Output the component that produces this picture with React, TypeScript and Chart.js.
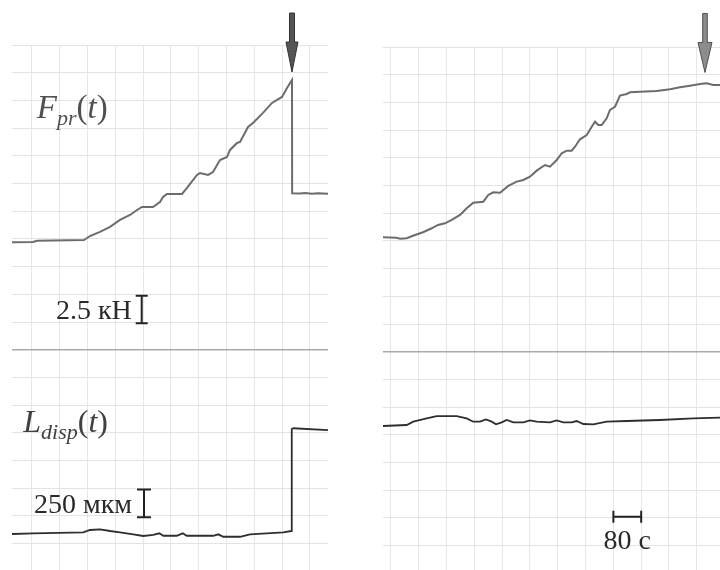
import React, { useEffect, useRef } from "react";
import { Chart, registerables } from "chart.js";

Chart.register(...registerables);

// ---------- DATA (time in s, force in kN, displacement in µm) ----------
// Left experiment
const leftForceTime = [-57.5, 2.9, 14.4, 149.6, 166.9, 195.7, 224.5, 253.2, 282, 302.2, 316.5, 348.2, 368.3, 377, 388.5, 431.7, 446, 474.8, 483.5, 506.5, 520.9, 541, 561.2, 569.8, 590, 598.6, 621.6, 636, 664.7, 690.6, 719.4, 733.8, 748.2, 748.6, 771.2, 785.6, 805.8, 823, 851.8];
const leftForceKN = [-0.05, -0.03, 0.09, 0.15, 0.51, 0.88, 1.33, 1.96, 2.41, 2.86, 3.13, 3.13, 3.58, 4.03, 4.31, 4.31, 4.85, 6.02, 6.2, 6.02, 6.29, 7.37, 7.64, 8.28, 8.91, 9.0, 10.35, 10.71, 11.62, 12.52, 13.06, 13.87, 14.59, 4.37, 4.35, 4.4, 4.32, 4.37, 4.32];
const leftDispTime = [-57.5, 3.7, 147.6, 166.9, 195.7, 224.5, 253.2, 291.5, 320.3, 349, 366.3, 377.8, 416.4, 433.7, 445.2, 521.7, 536.1, 550.5, 598.6, 627.3, 675.4, 723.2, 746.5, 747.5, 752, 851.8];
const leftDispUm = [-6, 0, 9, 30, 36, 21, 9, -9, -24, -15, 0, -22, -22, 0, -22, -22, -9, -31, -31, -9, 0, 9, 21, 941, 948, 932];

// Right experiment
const rightForceTime = [-23, 16.4, 25.9, 45.2, 63.3, 92.1, 117.1, 135.3, 155.4, 174.7, 198.6, 217.8, 236.8, 265.6, 280, 294.4, 313.7, 337.6, 361.7, 380.7, 400, 419.3, 443.2, 457.6, 476.8, 491.2, 505.6, 520, 529.5, 543.9, 563.2, 577.6, 587.1, 596.6, 606.3, 620.7, 630.2, 644.6, 659, 678.3, 687.8, 716.6, 764.6, 802.9, 831.7, 860.5, 889.2, 908.5, 927.5, 946.8];
const rightForceKN = [0.02, -0.02, -0.11, -0.07, 0.16, 0.47, 0.83, 1.13, 1.28, 1.58, 2.03, 2.64, 3.14, 3.23, 3.84, 4.08, 4.04, 4.65, 5.04, 5.19, 5.49, 6.03, 6.54, 6.39, 6.99, 7.6, 7.83, 7.83, 8.19, 8.86, 9.25, 10.0, 10.45, 10.15, 10.15, 10.76, 11.51, 11.8, 12.8, 12.95, 13.1, 13.16, 13.22, 13.38, 13.56, 13.7, 13.85, 13.92, 13.76, 13.76];
const rightDispTime = [-23, 45.2, 64.2, 102.7, 131.5, 189.1, 217.8, 236.8, 256.1, 273.4, 289.8, 302.2, 318.6, 333, 352, 380.7, 400, 419.3, 457.6, 476.8, 495.8, 520, 534.4, 553.4, 582.2, 620.7, 678.3, 774.1, 869.9, 946.8];
const rightDispUm = [0, 9, 39, 69, 90, 90, 69, 39, 39, 60, 39, 15, 33, 54, 33, 33, 51, 39, 33, 51, 33, 33, 45, 18, 15, 39, 45, 54, 69, 75];

// Grid (one division = 80 s horizontally, one row vertically)
const leftGridTimes = [0, 80, 160, 240, 320, 400, 480, 560, 640, 720, 800];
const rightGridTimes = [0, 80, 160, 240, 320, 400, 480, 560, 640, 720, 800, 880];
const gridRows = [0, 1, 2, 3, 4, 5, 6, 7, 8, 9, 10, 11, 12, 13, 14, 15, 16, 17, 18];
const dividerRow = 7;

// Labels & scale bars
const forceLabel = { main: "F", sub: "pr", tail: "t" };
const dispLabel = { main: "L", sub: "disp", tail: "t" };
const forceBarText = "2.5 кН";
const dispBarText = "250 мкм";
const timeBarText = "80 с";
const forceBarKN = 2.5;
const dispBarUm = 250;
const timeBarS = 80;

// ---------- helpers ----------
const pts = (xs: number[], ys: number[]) => xs.map((x, i) => ({ x, y: ys[i] }));

const SERIF = "'Liberation Serif', 'DejaVu Serif', serif";

function drawRich(ctx: CanvasRenderingContext2D, x: number, y: number, lab: any, size: number, sub: number, subDy: number, color: string) {
  ctx.save();
  ctx.fillStyle = color;
  ctx.textAlign = "left";
  ctx.textBaseline = "alphabetic";
  const parts = [
    { t: lab.main, f: `italic ${size}px ${SERIF}`, dy: 0 },
    { t: lab.sub, f: `italic ${sub}px ${SERIF}`, dy: subDy },
    { t: "(", f: `${size}px ${SERIF}`, dy: 0 },
    { t: lab.tail, f: `italic ${size}px ${SERIF}`, dy: 0 },
    { t: ")", f: `${size}px ${SERIF}`, dy: 0 },
  ];
  let cx = x;
  for (const p of parts) {
    ctx.font = p.f;
    ctx.fillText(p.t, cx, y + p.dy);
    cx += ctx.measureText(p.t).width;
  }
  ctx.restore();
}

function drawArrow(ctx: CanvasRenderingContext2D, x: number, tipY: number, topY: number, fill: string, stroke: string, shaftW: number, headW: number, headL: number) {
  ctx.save();
  ctx.beginPath();
  ctx.moveTo(x - shaftW / 2, topY);
  ctx.lineTo(x + shaftW / 2, topY);
  ctx.lineTo(x + shaftW / 2, tipY - headL);
  ctx.lineTo(x + headW / 2, tipY - headL);
  ctx.lineTo(x, tipY);
  ctx.lineTo(x - headW / 2, tipY - headL);
  ctx.lineTo(x - shaftW / 2, tipY - headL);
  ctx.closePath();
  ctx.fillStyle = fill;
  ctx.fill();
  ctx.lineWidth = 1;
  ctx.strokeStyle = stroke;
  ctx.stroke();
  ctx.restore();
}

function vBar(ctx: CanvasRenderingContext2D, x: number, y1: number, y2: number, cap: number) {
  ctx.save();
  ctx.strokeStyle = "#222";
  ctx.lineWidth = 2;
  ctx.beginPath();
  ctx.moveTo(x, y1); ctx.lineTo(x, y2);
  ctx.moveTo(x - cap, y1); ctx.lineTo(x + cap, y1);
  ctx.moveTo(x - cap, y2); ctx.lineTo(x + cap, y2);
  ctx.stroke();
  ctx.restore();
}

function hBar(ctx: CanvasRenderingContext2D, x1: number, x2: number, y: number, cap: number) {
  ctx.save();
  ctx.strokeStyle = "#222";
  ctx.lineWidth = 2;
  ctx.beginPath();
  ctx.moveTo(x1, y); ctx.lineTo(x2, y);
  ctx.moveTo(x1, y - cap); ctx.lineTo(x1, y + cap);
  ctx.moveTo(x2, y - cap); ctx.lineTo(x2, y + cap);
  ctx.stroke();
  ctx.restore();
}

const annotPlugin = {
  id: "annot",
  afterDatasetsDraw(chart: any, _args: any, opts: any) {
    const ctx: CanvasRenderingContext2D = chart.ctx;
    const sx = chart.scales.x, sF = chart.scales.yF, sL = chart.scales.yL;
    if (opts.arrow) {
      const a = opts.arrow;
      const px = sx.getPixelForValue(a.t);
      const tip = sF.getPixelForValue(a.f) - a.gap;
      drawArrow(ctx, px, tip, tip - a.len, a.fill, a.stroke, a.shaftW, a.headW, a.headL);
    }
    if (opts.forceLabel) {
      const l = opts.forceLabel;
      drawRich(ctx, sx.getPixelForValue(l.t), sF.getPixelForValue(l.f), forceLabel, l.size, l.sub, l.subDy, l.color);
    }
    if (opts.dispLabel) {
      const l = opts.dispLabel;
      drawRich(ctx, sx.getPixelForValue(l.t), sL.getPixelForValue(l.l), dispLabel, l.size, l.sub, l.subDy, l.color);
    }
    ctx.save();
    ctx.fillStyle = "#2a2a2a";
    ctx.font = `28px ${SERIF}`;
    ctx.textBaseline = "alphabetic";
    if (opts.forceBar) {
      const b = opts.forceBar;
      const x = sx.getPixelForValue(b.t);
      const y1 = sF.getPixelForValue(b.f0);
      const y2 = sF.getPixelForValue(b.f0 + forceBarKN);
      vBar(ctx, x, y1, y2, 6);
      ctx.textAlign = "right";
      ctx.fillText(forceBarText, x - b.gap, y1 - 4);
    }
    if (opts.dispBar) {
      const b = opts.dispBar;
      const x = sx.getPixelForValue(b.t);
      const y1 = sL.getPixelForValue(b.l0);
      const y2 = sL.getPixelForValue(b.l0 + dispBarUm);
      vBar(ctx, x, y1, y2, 7);
      ctx.textAlign = "right";
      ctx.fillText(dispBarText, x - b.gap, y1 - 4);
    }
    if (opts.timeBar) {
      const b = opts.timeBar;
      const x1 = sx.getPixelForValue(b.t0);
      const x2 = sx.getPixelForValue(b.t0 + timeBarS);
      const y = sL.getPixelForValue(b.l);
      hBar(ctx, x1, x2, y, 6);
      ctx.textAlign = "center";
      ctx.fillText(timeBarText, (x1 + x2) / 2, y + 32);
    }
    ctx.restore();
  },
};

function makeConfig(p: any) {
  return {
    type: "line",
    data: {
      datasets: [
        {
          data: pts(p.fT, p.fV),
          xAxisID: "x",
          yAxisID: "yF",
          borderColor: "#6c6c6c",
          borderWidth: 2,
          pointRadius: 0,
          tension: 0,
          fill: false,
        },
        {
          data: pts(p.lT, p.lV),
          xAxisID: "x",
          yAxisID: "yL",
          borderColor: "#2e2e2e",
          borderWidth: 1.8,
          pointRadius: 0,
          tension: 0,
          fill: false,
        },
      ],
    },
    options: {
      responsive: false,
      animation: false,
      events: [],
      layout: { padding: p.padding },
      plugins: {
        legend: { display: false },
        tooltip: { enabled: false },
        annot: p.annot,
      },
      scales: {
        x: {
          type: "linear",
          min: p.xMin,
          max: p.xMax,
          afterBuildTicks: (s: any) => { s.ticks = p.gridTimes.map((v: number) => ({ value: v })); },
          afterFit: (s: any) => { s.height = 0; },
          ticks: { display: false },
          border: { display: false },
          grid: { color: "#e6e6e6", lineWidth: 1, drawTicks: false },
        },
        g: {
          type: "linear",
          position: "left",
          min: p.gMin,
          max: 18,
          afterBuildTicks: (s: any) => { s.ticks = gridRows.map((v) => ({ value: v })); },
          afterFit: (s: any) => { s.width = 0; },
          ticks: { display: false },
          border: { display: false },
          grid: {
            drawTicks: false,
            color: (c: any) => (c.tick && c.tick.value === dividerRow ? "#a9a9a9" : "#e3e3e3"),
            lineWidth: (c: any) => (c.tick && c.tick.value === dividerRow ? 1.5 : 1),
          },
        },
        yF: { type: "linear", display: false, min: p.fMin, max: p.fMax },
        yL: { type: "linear", display: false, min: p.lMin, max: p.lMax },
      },
    },
    plugins: [annotPlugin],
  };
}

const leftPanel = {
  fT: leftForceTime, fV: leftForceKN, lT: leftDispTime, lV: leftDispUm,
  gridTimes: leftGridTimes,
  padding: { left: 12, right: 32, top: 45, bottom: 0 },
  xMin: -57.55, xMax: 851.8,
  gMin: -0.95,
  fMin: -29.63, fMax: 17.75,
  lMin: -331, lMax: 4407,
  annot: {
    arrow: { t: 748.2, f: 14.59, gap: 8, len: 59, fill: "#555555", stroke: "#333333", shaftW: 5, headW: 12, headL: 30 },
    forceLabel: { t: 14, f: 11.2, size: 33, sub: 22, subDy: 7, color: "#505050" },
    dispLabel: { t: -25, l: 917, size: 32, sub: 22, subDy: 7, color: "#404040" },
    forceBar: { t: 315.7, f0: -7.37, gap: 10 },
    dispBar: { t: 322.3, l0: 145, gap: 12 },
  },
};

const rightPanel = {
  fT: rightForceTime, fV: rightForceKN, lT: rightDispTime, lV: rightDispUm,
  gridTimes: rightGridTimes,
  padding: { left: 23, right: 0, top: 47, bottom: 0 },
  xMin: -23, xMax: 946.8,
  gMin: -0.88,
  fMin: -30.01, fMax: 17.19,
  lMin: -1299.6, lMax: 3420.5,
  annot: {
    arrow: { t: 903.6, f: 13.9, gap: 11, len: 59, fill: "#8c8c8c", stroke: "#505050", shaftW: 4.6, headW: 14, headL: 30 },
    timeBar: { t0: 640, l: -818 },
  },
};

export default function App() {
  const leftRef = useRef<HTMLCanvasElement>(null);
  const rightRef = useRef<HTMLCanvasElement>(null);
  useEffect(() => {
    const c1 = new Chart(leftRef.current as any, makeConfig(leftPanel) as any);
    const c2 = new Chart(rightRef.current as any, makeConfig(rightPanel) as any);
    return () => { c1.destroy(); c2.destroy(); };
  }, []);
  return (
    <div style={{ position: "fixed", left: 0, top: 0, width: 720, height: 570, background: "#fff", overflow: "hidden" }}>
      <canvas ref={leftRef} width={360} height={570} style={{ position: "absolute", left: 0, top: 0 }} />
      <canvas ref={rightRef} width={360} height={570} style={{ position: "absolute", left: 360, top: 0 }} />
    </div>
  );
}
